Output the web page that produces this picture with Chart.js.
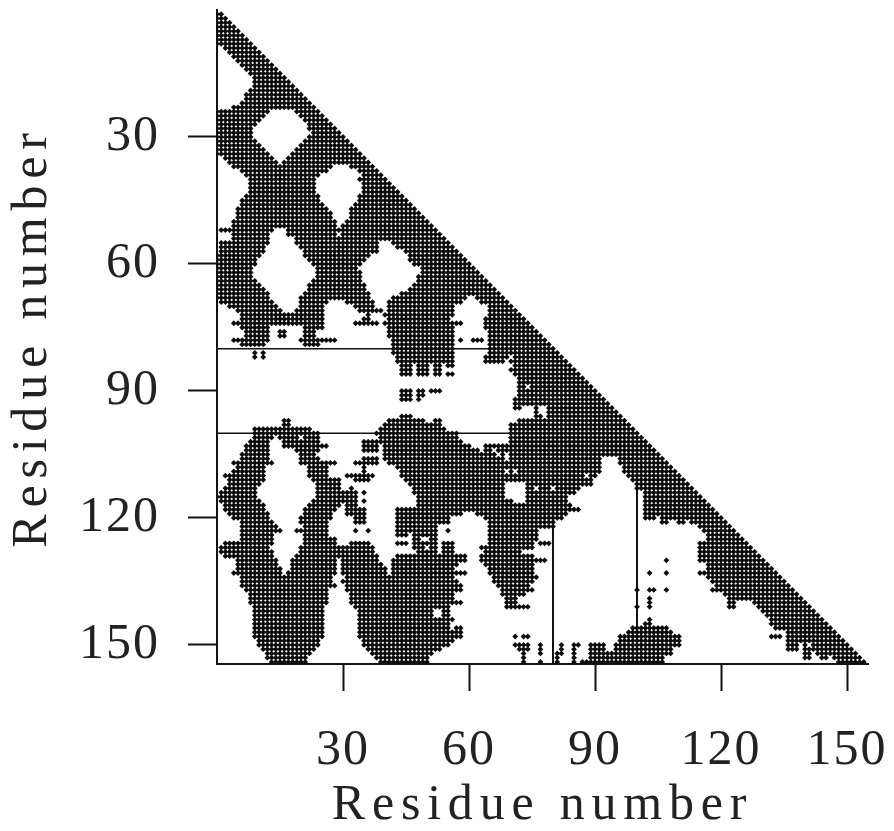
<!DOCTYPE html>
<html>
<head>
<meta charset="utf-8">
<title>Residue contact map</title>
<script src="https://cdn.jsdelivr.net/npm/chart.js@4/dist/chart.umd.min.js"></script>
<style>
html,body{margin:0;padding:0;background:#fff;}
#wrap{width:894px;height:831px;}
</style>
</head>
<body>
<div id="wrap"><canvas id="graphCanvas" width="894" height="831"></canvas></div>
<script>
var tickValues = [30,60,90,120,150];
var axisTitle = "Residue number";

// contacts, one line per residue on the y axis (1 to 154): from,to pairs of x residues
var contactRows = [
[0,1],[0,2],[0,3],[0,4],[0,5],[0,6],[0,7],[0,8],
[2,9],[3,10],[4,11],[5,12],[6,13],[7,14],[8,15],[9,16],[9,17],[9,18],[8,19],[7,20],[7,21],[6,22],[4,23],
[0,12,19,24],[0,11,20,25],[0,10,21,26],[0,9,22,27],[0,8,22,28],[0,8,23,29],[0,8,22,30],[0,9,21,31],
[0,10,20,32],[0,11,19,33],[0,12,18,34],[2,13,17,35],[3,14,16,36],
[4,27,32,37],[6,26,34,38],[7,24,35,39],[8,23,34,40],[8,23,35,41],[8,23,35,42],[8,23,35,43],[7,24,34,44],
[6,24,34,45],[6,25,33,46],[5,26,32,47],[5,27,32,48],[5,27,32,49],[4,28,31,50],[4,28,30,51],
[1,13,17,52],[4,12,17,28,30,53],[4,12,19,54],
[1,12,19,38,42,55],[1,11,20,38,43,56],[1,11,21,38,45,57],[0,10,21,36,46,58],[0,9,22,35,46,59],
[0,9,23,34,47,60],[0,8,24,33,49,61],[0,8,24,34,49,62],[0,8,24,34,48,63],[0,9,23,34,48,64],
[0,10,22,35,47,65],[0,11,22,35,46,66],[0,12,21,36,44,67],[0,12,20,36,42,59,62,68],
[1,13,20,26,31,37,41,58,63,69],[3,14,20,25,33,37,41,56,65,70],[5,15,19,25,34,39,41,56,65,71],
[6,25,36,36,40,56,65,72],[6,25,35,36,41,55,64,73],[4,25,33,38,40,58,64,74],[6,12,21,25,41,56,64,75],
[7,12,15,16,21,23,41,56,65,76],[7,12,15,16,21,23,41,56,65,77],[4,12,20,28,42,56,58,58,61,63,65,78],
[6,11,21,24,42,56,65,79],[42,56,65,80],[9,9,11,11,42,56,65,81],[9,9,11,11,43,56,64,69,71,82],
[43,56,64,68,70,83],[44,46,48,50,52,53,55,56,71,84],[44,46,48,50,52,53,70,85],[44,46,48,50,52,53,55,56,71,86],
[72,87],[72,88],[72,73,75,89],[44,46,48,49,51,53,72,90],[44,46,48,49,72,91],[44,46,48,48,71,92],[71,93],
[71,72,76,76,79,94],[76,76,79,95],[44,46,76,77,79,96],[16,17,41,49,52,53,72,97],[16,17,40,53,70,98],
[9,22,39,54,70,99],[9,24,38,57,70,100],[9,13,15,19,21,24,39,57,70,101],[8,12,16,24,35,58,70,102],
[7,12,16,26,35,38,40,60,64,103],[7,12,19,24,35,38,40,62,64,65,67,104],[6,12,20,23,40,66,68,68,70,105],
[6,12,20,24,35,38,40,68,70,91,96,106],[4,13,20,28,33,38,41,91,96,107],[5,11,22,26,35,35,43,91,97,108],
[4,11,22,26,35,35,44,68,70,70,72,91,97,109],[2,11,22,26,31,37,44,87,89,90,98,110],
[3,11,23,29,33,36,45,89,99,111],[3,10,24,29,46,68,74,89,100,112],
[2,9,24,29,32,32,47,68,74,75,77,79,81,86,100,113],[1,9,24,33,35,35,47,68,74,85,102,114],
[0,9,24,33,48,68,74,83,102,115],[1,10,23,33,35,35,48,70,74,83,102,116],[2,11,22,29,31,33,48,84,102,117],
[2,11,21,28,31,35,43,86,102,118],[3,12,21,27,31,35,43,58,62,83,102,119],
[4,12,20,27,33,35,43,55,64,82,102,104,106,120],[6,13,20,26,33,35,43,55,65,80,106,107,110,111,113,121],
[6,14,21,26,43,52,65,80,115,122],[6,15,19,26,33,33,36,36,43,52,55,55,65,76,116,123],
[6,13,21,26,43,45,47,52,65,76,117,124],[6,13,21,28,47,48,51,52,65,76,117,125],
[2,13,21,28,32,36,43,45,47,52,54,56,65,75,77,79,115,126],[1,12,20,37,47,49,51,52,54,56,63,75,115,127],
[1,13,20,37,48,52,54,56,64,72,115,128],[2,13,19,38,43,59,63,75,115,129],
[5,14,18,28,30,38,42,59,63,78,107,107,115,130],[5,14,18,28,30,39,42,57,64,75,117,131],
[5,15,18,28,30,40,42,56,65,75,117,132],[4,15,17,28,30,40,42,59,65,75,103,103,107,107,115,133],
[6,27,31,56,66,76,117,134],[6,27,30,57,66,75,118,135],[6,28,31,58,67,74,119,136],
[7,26,31,58,68,75,100,100,103,104,107,107,118,137],[8,26,32,56,68,73,121,138],
[8,26,32,56,69,71,103,103,122,139],[8,26,32,58,69,71,103,103,122,123,128,140],
[9,25,33,55,69,74,100,100,103,103,122,123,129,141],[9,25,34,51,54,55,130,142],[9,25,34,51,54,55,131,143],
[9,25,34,56,103,103,132,144],[9,25,34,55,102,103,132,145],[9,25,34,55,57,58,99,107,133,146],
[9,25,34,58,98,108,136,147],[9,25,34,58,71,71,73,74,96,110,132,134,136,148],[10,24,35,56,96,110,136,149],
[10,24,35,55,71,74,77,77,82,82,85,86,89,92,95,110,136,138,140,140,142,150],
[11,23,36,53,72,74,77,77,82,82,85,85,89,92,95,108,136,138,140,151],
[12,22,37,51,73,73,77,77,81,82,85,85,89,108,140,141,143,152],
[12,21,38,50,73,73,81,81,85,85,89,106,140,141,144,145,147,153],
[13,21,39,50,73,73,77,77,81,81,85,85,87,106,148,154]
];

// the two thin rules at residues 80 and 100
var ruleResidues = [80,100];
var ruleRowEnds = [65,70];
var ruleColStarts = [122,112];
var ruleColEnds = [154.5,146];

var contacts = [];
for(var i=0;i<contactRows.length;i++){
    var row = contactRows[i];
    for(var k=0;k<row.length;k+=2){
        for(var c=row[k];c<=row[k+1];c++){
            contacts.push({x:c,y:i+1});
        }
    }
}

var chartdata = {datasets:[{
    label:'contacts',
    data:contacts,
    pointStyle:'rectRot',
    pointRadius:2.9,
    pointBorderWidth:0,
    pointBackgroundColor:'#0c0c0c'
}]};
for(var n=0;n<ruleResidues.length;n++){
    chartdata.datasets.push({
        label:'row '+ruleResidues[n],
        data:[{x:0,y:ruleResidues[n]},{x:ruleRowEnds[n],y:ruleResidues[n]}],
        showLine:true,pointRadius:0,borderColor:'#111',borderWidth:1.5
    });
    chartdata.datasets.push({
        label:'col '+ruleResidues[n],
        data:[{x:ruleResidues[n],y:ruleColStarts[n]},{x:ruleResidues[n],y:ruleColEnds[n]}],
        showLine:true,pointRadius:0,borderColor:'#111',borderWidth:2
    });
}

function setTicks(axis){
    axis.ticks = tickValues.map(function(v){return {value:v};});
}

// no extra room for half labels, the plot box is fixed
function noMargins(s){
    s.paddingLeft = 0;
    s.paddingRight = 0;
    s.paddingTop = 0;
    s.paddingBottom = 0;
}

// the text in the picture is set wider than the font, the title most of all
var wideText = {
    id:'wideText',
    beforeDraw:function(chart){
        ['x','y'].forEach(function(id){
            var scale = chart.scales[id];
            if(scale.wideDone){return;}
            var origTitle = scale.drawTitle;
            var origLabels = scale.drawLabels;
            scale.drawTitle = function(){
                chart.ctx.letterSpacing = '6.8px';
                origTitle.call(scale);
                chart.ctx.letterSpacing = '0px';
            };
            scale.drawLabels = function(area){
                chart.ctx.letterSpacing = '2px';
                origLabels.call(scale,area);
                chart.ctx.letterSpacing = '0px';
            };
            scale.wideDone = true;
        });
    }
};

var labelFont = {family:'"Liberation Serif"',size:50,weight:'normal'};
var titleFont = {family:'"Liberation Serif"',size:50,weight:'normal',lineHeight:1};

var graphTarget = document.getElementById('graphCanvas');
var graph = new Chart(graphTarget,{
    type:'scatter',
    data:chartdata,
    plugins:[wideText],
    options:{
        responsive:false,
        animation:false,
        layout:{padding:{top:10,right:26,left:0,bottom:0}},
        plugins:{legend:{display:false},tooltip:{enabled:false}},
        scales:{
            x:{
                min:0,max:155,
                afterBuildTicks:setTicks,
                afterFit:function(s){s.height=167;noMargins(s);},
                grid:{drawOnChartArea:false,tickLength:27,tickColor:'#111',tickWidth:2},
                border:{color:'#111',width:2},
                ticks:{color:'#222',font:labelFont,padding:30,maxRotation:0,autoSkip:false},
                title:{display:true,text:axisTitle,color:'#222',font:titleFont,padding:{top:0,bottom:0}}
            },
            y:{
                reverse:true,
                min:0,max:154.5,
                afterBuildTicks:setTicks,
                afterFit:function(s){s.width=217;noMargins(s);},
                grid:{drawOnChartArea:false,tickLength:29,tickColor:'#111',tickWidth:2},
                border:{color:'#111',width:2},
                ticks:{color:'#222',font:labelFont,padding:28,autoSkip:false},
                title:{display:true,text:axisTitle,color:'#222',font:titleFont,padding:{top:8,bottom:0}}
            }
        }
    }
});
</script>
</body>
</html>
